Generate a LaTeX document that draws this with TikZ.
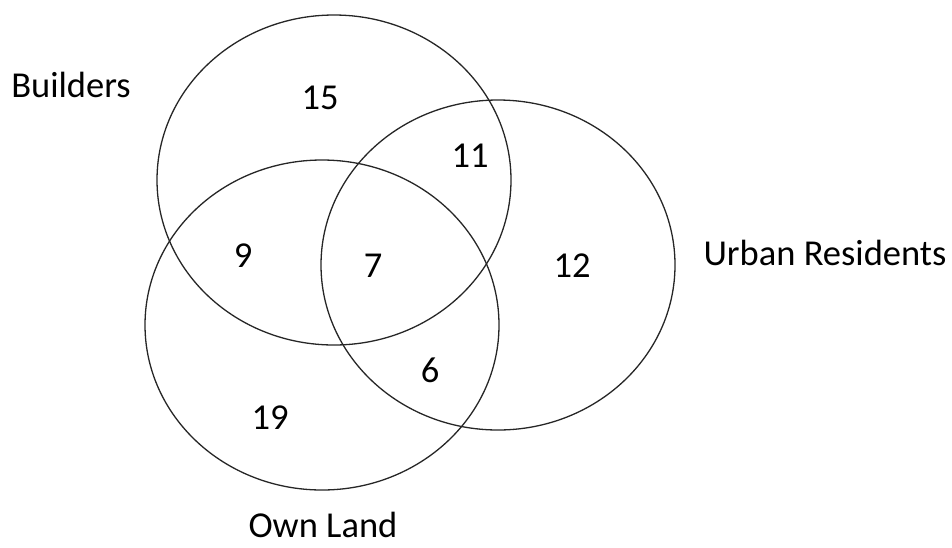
\documentclass[tikz,border=0pt]{standalone}
\usepackage{fontspec}
\setmainfont{Carlito}
\usetikzlibrary{shapes.geometric}
\begin{document}
\begin{tikzpicture}[x=1pt,y=-1pt,
  setc/.style={draw=black!85, line width=1.3pt},
  lbl/.style={inner sep=0pt, anchor=base, font=\fontsize{36.5}{42}\selectfont},
  num/.style={inner sep=0pt, anchor=base, font=\fontsize{36.5}{42}\selectfont}]
\useasboundingbox (0,0) rectangle (952,547);
% sets
\draw[setc] (334,180) ellipse [x radius=177, y radius=165];
\draw[setc] (322,325) ellipse [x radius=177, y radius=165];
\draw[setc] (498,265) ellipse [x radius=177, y radius=165];
% labels
\node[lbl] (builders) at (71,97) {Builders};
\node[lbl] (urban) at (825,265) {Urban Residents};
\node[lbl] (own) at (323,537) {Own Land};
% numbers
\node[num] (n15) at (320,109) {15};
\node[num] (n11) at (470,167) {11};
\node[num] (n9) at (243,267) {9};
\node[num] (n7) at (373,277) {7};
\node[num] (n12) at (572,277) {12};
\node[num] (n6) at (430,382) {6};
\node[num] (n19) at (270,429) {19};
\end{tikzpicture}
\end{document}
